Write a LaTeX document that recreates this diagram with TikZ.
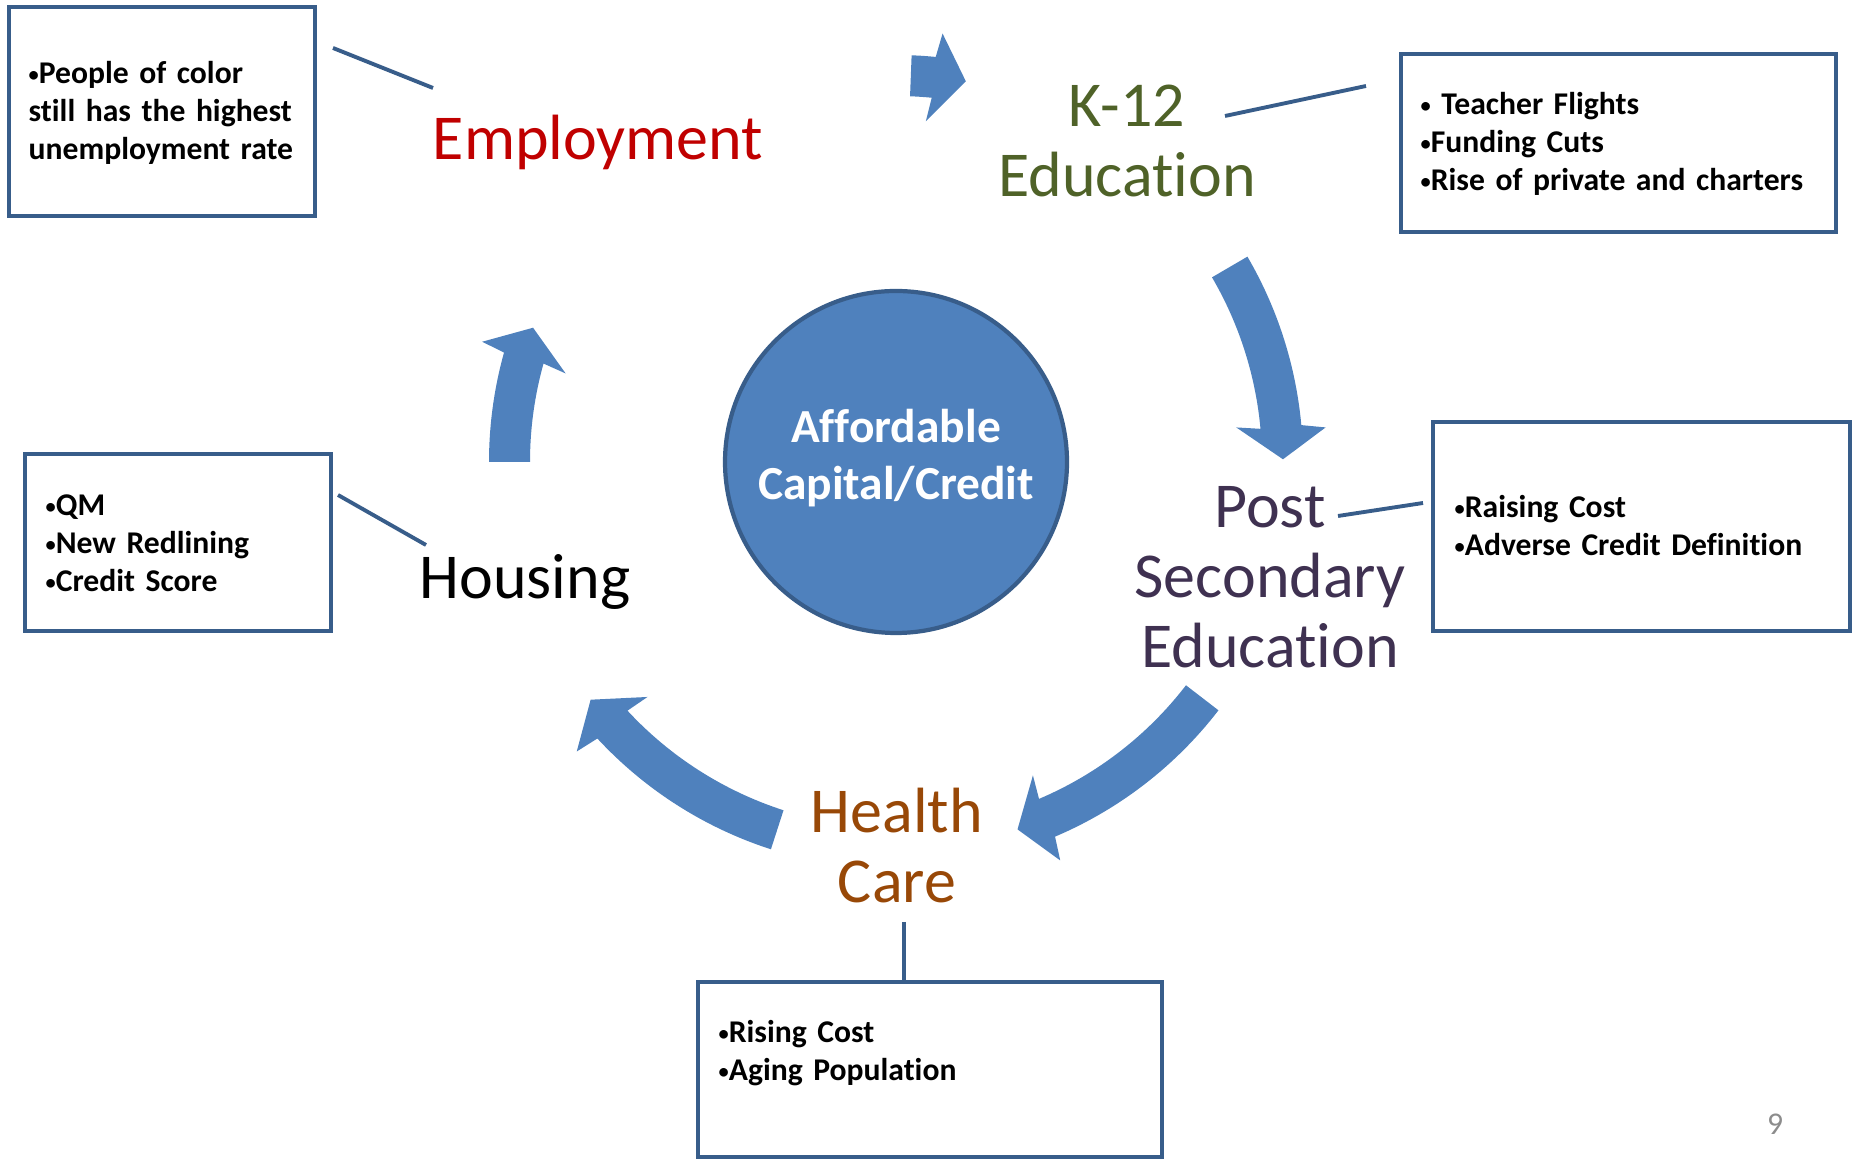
\documentclass[tikz,border=0pt]{standalone}
\usepackage{fontspec}
\setmainfont{Carlito}[Ligatures={NoCommon,NoContextual}]
\usepackage{xcolor}
\usepackage{tikz}

\definecolor{boxblue}{HTML}{385D8A}
\definecolor{fillblue}{HTML}{4F81BD}
\definecolor{empred}{HTML}{C00000}
\definecolor{schoolgreen}{HTML}{4F6228}
\definecolor{collegepurple}{HTML}{3F3151}
\definecolor{healthbrown}{HTML}{984807}
\definecolor{pagegray}{HTML}{8C8C8C}

\newcommand{\dotmark}{\raisebox{0.8pt}{\fontsize{5.8}{5.8}\selectfont •}}

\begin{document}
        \begin{tikzpicture}[
            infobox/.style={draw=boxblue, line width=1.2pt, fill=white, anchor=north west, inner sep=0pt, outer sep=0pt},
            boxtext/.style={anchor=base west, text width=4cm, align=left, inner sep=0pt, font=\fontsize{9}{10.8}\selectfont\bfseries},
            topic/.style={anchor=base, text width=5cm, align=center, inner sep=0pt, font=\fontsize{18.2}{19.9}\selectfont},
            link/.style={draw=boxblue, line width=1.1pt},
            cyclearrow/.style={fill=fillblue}
        ]
            \useasboundingbox (0, 0) rectangle (18.54, 11.58);

            \node[circle, draw=boxblue, line width=1.2pt, fill=fillblue, minimum size=3.42cm, inner sep=0pt, outer sep=0pt] (hub) at (8.96, 6.96) {};
            \node[anchor=base, text width=3.2cm, align=center, inner sep=0pt, text=white,
                font=\fontsize{13.5}{16.2}\selectfont\bfseries] (hubtext) at (8.96, 7.15) {Affordable\\Capital/Credit};

            \begin{scope}[shift={(hub.center)}]
                \fill[cyclearrow] (180:4.07) arc[start angle=180, end angle=164.4, radius=4.07] -- (163.8:4.31) -- (159.7:3.87) -- (165.0:3.42) -- (164.4:3.66) arc[start angle=164.4, end angle=180, radius=3.66] -- cycle;
                \fill[cyclearrow] (87.8:4.07) arc[start angle=87.8, end angle=84.4, radius=4.07] -- (83.8:4.31) -- (79.6:3.87) -- (85.0:3.42) -- (84.4:3.66) arc[start angle=84.4, end angle=87.8, radius=3.66] -- cycle;
                \fill[cyclearrow] (30.3:4.07) arc[start angle=30.3, end angle=5.2, radius=4.07] -- (4.6:4.31) -- (0.4:3.87) -- (5.8:3.42) -- (5.2:3.66) arc[start angle=5.2, end angle=30.3, radius=3.66] -- cycle;
                \fill[cyclearrow] (-37.6:4.07) arc[start angle=-37.6, end angle=-67.0, radius=4.07] -- (-67.6:4.31) -- (-71.7:3.87) -- (-66.4:3.42) -- (-67.0:3.66) arc[start angle=-67.0, end angle=-37.6, radius=3.66] -- cycle;
                \fill[cyclearrow] (-107.9:4.07) arc[start angle=-107.9, end angle=-137.2, radius=4.07] -- (-137.8:4.31) -- (-142.1:3.87) -- (-136.6:3.42) -- (-137.2:3.66) arc[start angle=-137.2, end angle=-107.9, radius=3.66] -- cycle;
            \end{scope}

            \node[topic, text=empred] (employment) at (5.98, 9.98) {Employment};
            \node[topic, text=schoolgreen] (k12) at (11.27, 10.31) {K-12\\Education};
            \node[topic, text=collegepurple] (postsec) at (12.70, 6.30) {Post\\Secondary\\Education};
            \node[topic, text=healthbrown] (health) at (8.97, 3.25) {Health\\Care};
            \node[topic, text=black] (housing) at (5.25, 5.59) {Housing};

            \node[infobox, minimum width=3.06cm, minimum height=2.09cm] (empbox) at (0.09, 11.51) {};
            \node[infobox, minimum width=4.35cm, minimum height=1.78cm] (k12box) at (14.01, 11.04) {};
            \node[infobox, minimum width=4.17cm, minimum height=2.09cm] (postbox) at (14.33, 7.36) {};
            \node[infobox, minimum width=3.06cm, minimum height=1.77cm] (housebox) at (0.25, 7.04) {};
            \node[infobox, minimum width=4.64cm, minimum height=1.75cm] (healthbox) at (6.98, 1.76) {};

            \node[boxtext] (emptext) at (0.28, 10.74) {\dotmark People of color\\still has the highest\\unemployment rate};
            \node[boxtext] (k12text) at (14.20, 10.43) {\dotmark{} Teacher Flights\\\dotmark Funding Cuts\\\dotmark Rise of private and charters};
            \node[boxtext] (posttext) at (14.54, 6.40) {\dotmark Raising Cost\\\dotmark Adverse Credit Definition};
            \node[boxtext] (housetext) at (0.45, 6.42) {\dotmark QM\\\dotmark New Redlining\\\dotmark Credit Score};
            \node[boxtext] (healthtext) at (7.18, 1.15) {\dotmark Rising Cost\\\dotmark Aging Population};

            \coordinate (empA) at (3.33, 11.10);
            \coordinate (empB) at (4.33, 10.70);
            \coordinate (k12A) at (12.25, 10.42);
            \coordinate (k12B) at (13.66, 10.72);
            \coordinate (postA) at (13.38, 6.42);
            \coordinate (postB) at (14.23, 6.55);
            \coordinate (houseA) at (3.38, 6.63);
            \coordinate (houseB) at (4.26, 6.13);
            \coordinate (healthA) at (9.04, 2.36);
            \draw[link] (empA) -- (empB);
            \draw[link] (k12A) -- (k12B);
            \draw[link] (postA) -- (postB);
            \draw[link] (houseA) -- (houseB);
            \draw[link] (healthA) -- (healthA |- healthbox.north);

            \node[anchor=base, inner sep=0pt, text=pagegray, font=\fontsize{9}{10.8}\selectfont] (pagenum) at (17.75, 0.23) {9};
        \end{tikzpicture}
\end{document}
